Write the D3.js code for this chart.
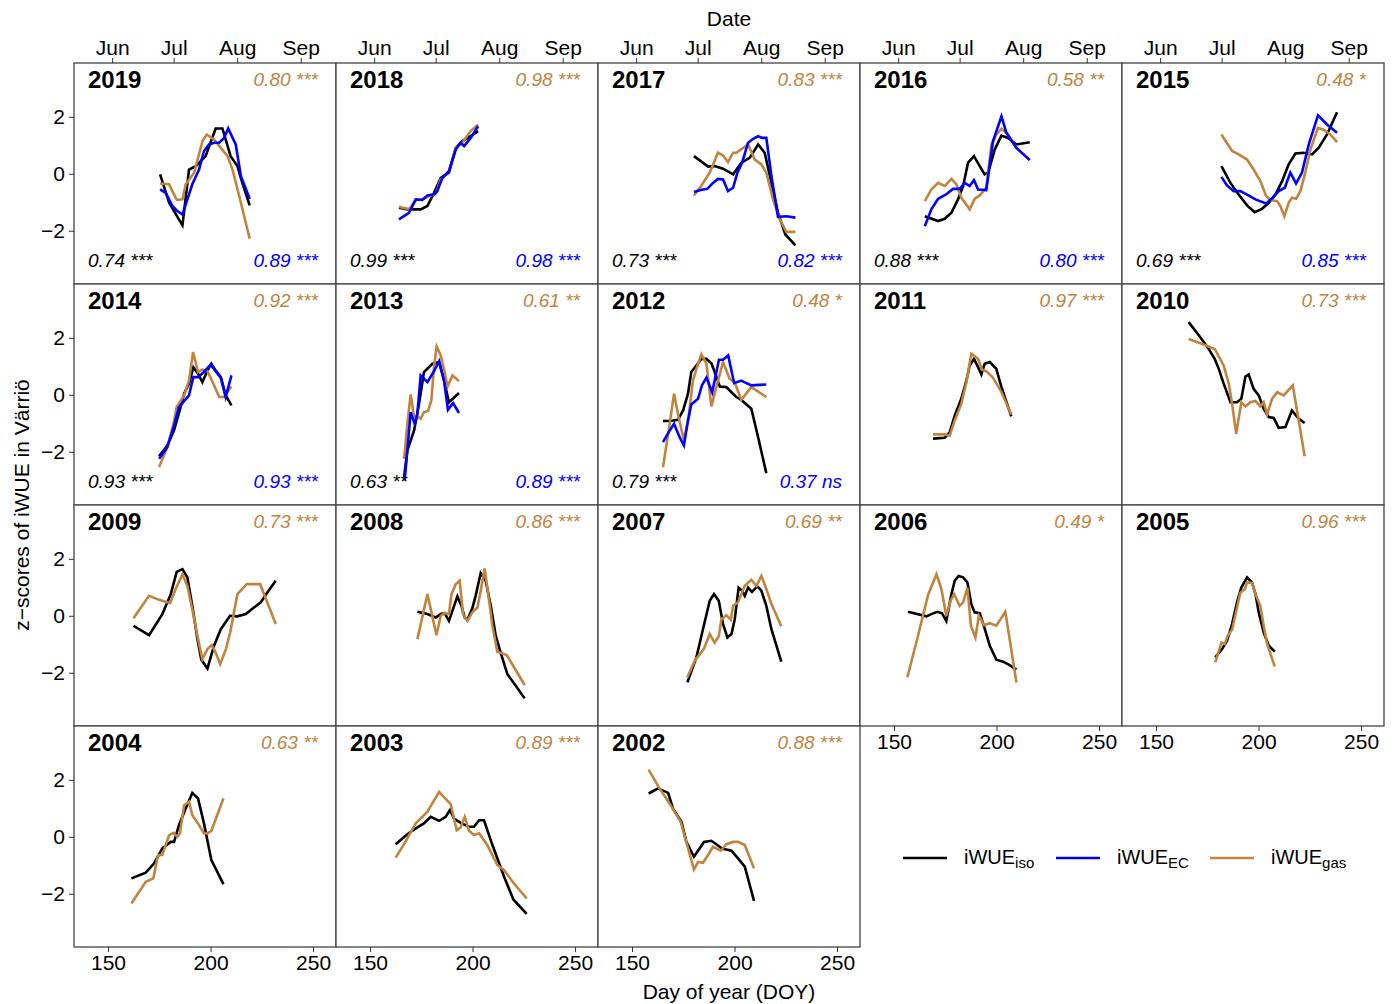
<!DOCTYPE html>
<html>
<head>
<meta charset="utf-8">
<script src="https://cdn.jsdelivr.net/npm/d3@7"></script>
<style>
  body { margin: 0; background: #fff; }
  text { font-family: "Liberation Sans", Arial, sans-serif; }
</style>
</head>
<body>
<svg id="chart" width="1395" height="1004"></svg>
<script>
// z-scores of iWUE per year, three methods: isotopes (black), eddy covariance (blue), gas exchange (brown)
// each point is [DOY, z]

const years = [2019, 2018, 2017, 2016, 2015, 2014, 2013, 2012, 2011, 2010, 2009, 2008, 2007, 2006, 2005, 2004, 2003, 2002];
const gasStats = ["0.80 ***", "0.98 ***", "0.83 ***", "0.58 **", "0.48 *", "0.92 ***", "0.61 **", "0.48 *", "0.97 ***", "0.73 ***",
                  "0.73 ***", "0.86 ***", "0.69 **", "0.49 *", "0.96 ***", "0.63 **", "0.89 ***", "0.88 ***"];
const isoStats = ["0.74 ***", "0.99 ***", "0.73 ***", "0.88 ***", "0.69 ***", "0.93 ***", "0.63 **", "0.79 ***"];
const ecStats  = ["0.89 ***", "0.98 ***", "0.82 ***", "0.80 ***", "0.85 ***", "0.93 ***", "0.89 ***", "0.37 ns"];

const monthTicks = [152, 182, 213, 244];
const monthLabels = ["Jun", "Jul", "Aug", "Sep"];
const doyTicks = [150, 200, 250];
const zTicks = [-2, 0, 2];

const iso2019 = [[175.4,-0.02],[179.8,-1.02],[186.3,-1.81],[189.5,0.15],[192.8,0.27],[197.6,0.62],[202.5,1.59],[205.8,1.59],[207.4,1.20],[209.8,0.62],[213.1,0.27],[215.5,-0.32],[219.1,-1.11]];
const gas2019 = [[175.4,-0.34],[179.8,-0.37],[183.5,-0.92],[186.3,-0.90],[187.9,-0.37],[192.0,0.04],[196.1,1.15],[198.2,1.38],[201.8,1.20],[205.0,0.91],[208.3,0.62],[210.7,0.15],[214.0,-0.78],[219.1,-2.28]];
const ec2019  = [[175.4,-0.55],[178.1,-0.67],[181.4,-1.13],[183.8,-1.31],[186.3,-1.43],[188.7,-0.90],[191.1,-0.37],[194.4,0.15],[196.8,0.80],[199.3,1.03],[201.8,1.09],[204.2,1.09],[206.6,1.26],[208.6,1.59],[212.3,1.03],[214.8,-0.08],[219.1,-0.88]];

const iso2018 = [[164.1,-1.19],[168.2,-1.25],[174.7,-1.25],[178.0,-1.13],[181.2,-0.67],[184.5,-0.14],[188.5,0.04],[191.8,0.91],[195.0,1.15],[199.1,1.32],[202.7,1.50]];
const gas2018 = [[164.1,-1.16],[169.0,-1.25],[172.3,-0.92],[175.5,-0.90],[178.8,-0.78],[182.0,-0.72],[184.5,-0.20],[188.5,0.09],[191.8,0.91],[195.0,1.09],[199.1,1.50],[202.7,1.73]];
const ec2018  = [[164.1,-1.60],[169.0,-1.37],[172.3,-0.90],[175.5,-0.92],[178.0,-0.76],[181.2,-0.72],[182.8,-0.61],[185.3,-0.14],[188.5,0.09],[191.8,0.85],[194.2,1.09],[195.9,0.97],[199.1,1.26],[202.7,1.67]];

const iso2017 = [[180.2,0.62],[187.1,0.25],[190.3,0.27],[194.4,0.18],[199.3,-0.02],[203.3,0.39],[207.4,0.56],[211.5,1.03],[214.7,0.74],[218.0,-0.32],[221.2,-1.37],[224.8,-2.13],[229.7,-2.51]];
const gas2017 = [[180.2,-0.76],[183.7,-0.43],[187.9,0.04],[191.9,0.74],[194.4,0.64],[196.8,0.41],[199.3,0.74],[200.9,0.74],[204.2,0.91],[206.6,1.03],[209.9,0.50],[213.1,0.33],[215.5,0.04],[218.8,-0.90],[222.0,-1.60],[225.3,-2.04],[229.7,-2.04]];
const ec2017  = [[180.2,-0.64],[183.0,-0.58],[186.7,-0.53],[189.5,-0.32],[191.9,-0.18],[194.4,-0.20],[196.8,-0.61],[199.3,-0.49],[201.4,0.04],[203.7,0.39],[206.6,1.09],[209.1,1.23],[211.5,1.32],[213.5,1.26],[215.5,1.26],[218.0,-0.08],[221.2,-1.51],[225.3,-1.49],[229.7,-1.54]];

const iso2016 = [[165.0,-1.49],[171.5,-1.66],[174.7,-1.58],[178.0,-1.37],[181.2,-0.90],[183.7,-0.43],[186.1,0.39],[189.0,0.62],[191.8,0.27],[194.2,-0.02],[195.9,0.04],[199.1,0.85],[202.4,1.34],[205.6,1.26],[209.7,1.03],[216.2,1.11]];
const gas2016 = [[165.0,-0.96],[168.2,-0.55],[171.5,-0.32],[174.7,-0.43],[178.0,-0.18],[180.4,-0.37],[182.8,-0.84],[186.9,-1.25],[189.3,-0.88],[191.8,-0.76],[195.0,-0.49],[197.5,1.03],[199.9,1.38],[202.4,1.58],[205.6,1.38],[209.7,0.91],[216.2,0.48]];
const ec2016  = [[165.0,-1.84],[168.2,-1.25],[171.5,-0.88],[175.5,-0.72],[178.8,-0.53],[182.0,-0.53],[184.5,-0.32],[186.9,-0.43],[189.0,-0.22],[191.0,-0.55],[195.0,-0.57],[198.3,1.15],[202.4,2.02],[204.8,1.44],[209.7,0.91],[216.2,0.48]];

const iso2015 = [[181.9,0.27],[186.3,-0.32],[190.3,-0.73],[194.4,-1.11],[198.1,-1.35],[201.7,-1.23],[205.0,-1.02],[208.2,-0.73],[211.5,-0.26],[214.7,0.33],[218.0,0.71],[222.0,0.74],[226.1,0.68],[229.3,0.91],[233.4,1.38],[238.3,2.16]];
const gas2015 = [[181.9,1.38],[187.1,0.80],[190.3,0.68],[194.4,0.50],[197.6,0.15],[200.9,-0.26],[203.7,-0.78],[205.8,-0.92],[209.1,-0.96],[210.7,-1.14],[212.6,-1.49],[214.7,-1.02],[216.3,-0.84],[218.3,-0.88],[220.4,-0.61],[222.8,0.04],[225.3,0.85],[229.0,1.61],[231.7,1.55],[235.0,1.38],[238.3,1.11]];
const ec2015  = [[181.9,-0.11],[184.6,-0.41],[187.9,-0.61],[191.1,-0.61],[194.4,-0.73],[198.5,-0.90],[203.7,-1.04],[206.9,-0.84],[209.8,-0.61],[212.8,-0.49],[215.5,0.04],[218.3,-0.34],[221.2,0.04],[224.5,1.03],[229.0,2.05],[233.4,1.73],[238.3,1.44]];

const iso2014 = [[174.9,-2.16],[178.9,-1.78],[182.2,-1.25],[185.4,-0.43],[187.1,0.04],[189.5,0.39],[191.6,0.97],[193.9,0.74],[196.0,0.44],[198.5,0.85],[200.4,1.09],[202.5,0.85],[205.0,0.62],[207.4,-0.02],[210.2,-0.37]];
const gas2014 = [[174.9,-2.54],[178.9,-1.84],[181.9,-1.02],[183.5,-0.43],[187.1,-0.02],[189.5,0.50],[191.5,1.50],[193.9,0.80],[196.0,0.88],[198.5,0.83],[201.4,0.39],[204.2,-0.08],[206.6,-0.08],[210.2,0.29]];
const ec2014  = [[174.9,-2.25],[178.9,-1.84],[182.2,-1.08],[184.6,-0.43],[189.5,-0.02],[191.6,0.62],[193.9,0.62],[196.8,0.80],[200.1,1.06],[202.5,0.83],[205.0,0.60],[207.4,-0.08],[210.2,0.68]];

const iso2013 = [[166.6,-2.89],[168.2,-1.95],[171.5,-1.25],[173.9,-0.32],[176.3,0.80],[180.4,1.09],[183.7,1.15],[186.1,0.50],[188.5,-0.26],[193.4,0.06]];
const gas2013 = [[166.6,-2.25],[168.2,-1.02],[169.8,0.01],[171.5,-0.78],[173.1,-0.76],[174.7,-0.84],[176.3,-0.61],[178.3,-0.57],[179.9,-0.20],[181.2,0.97],[182.5,1.70],[184.5,1.38],[186.4,0.80],[187.8,0.29],[190.2,0.68],[193.4,0.48]];
const ec2013  = [[166.9,-3.01],[168.2,-1.95],[169.8,-0.61],[171.8,-1.02],[173.1,-0.67],[174.7,0.68],[178.0,0.44],[181.2,0.83],[183.7,1.18],[186.1,0.50],[188.0,-0.53],[190.5,-0.29],[193.4,-0.64]];

const iso2012 = [[165.1,-0.92],[168.4,-0.92],[172.4,-0.88],[174.9,-0.55],[177.3,0.04],[178.9,0.80],[181.4,1.03],[183.8,1.26],[186.3,1.26],[188.7,1.11],[190.3,0.80],[192.8,0.29],[196.0,0.27],[198.5,0.09],[200.9,-0.08],[203.3,-0.18],[208.2,-0.49],[211.5,-1.49],[215.5,-2.75]];
const gas2012 = [[165.1,-2.54],[167.9,-1.25],[170.5,0.04],[172.7,-0.78],[175.3,-1.60],[177.6,-0.78],[179.7,0.50],[181.4,0.91],[183.8,1.42],[186.3,1.09],[188.7,-0.41],[191.1,0.27],[194.4,1.15],[197.6,0.56],[200.1,0.44],[203.3,-0.18],[208.2,0.27],[215.5,-0.08]];
const ec2012  = [[165.1,-1.66],[167.9,-1.31],[170.5,-1.02],[173.2,-1.49],[175.3,-1.78],[177.3,-0.90],[178.9,-0.34],[182.2,-0.14],[184.1,0.33],[186.3,0.60],[189.1,0.09],[192.4,1.23],[194.4,1.23],[196.9,1.38],[199.8,0.41],[203.3,0.50],[208.2,0.33],[215.5,0.36]];

const iso2011 = [[169.0,-1.54],[174.7,-1.51],[177.2,-1.31],[179.6,-0.73],[182.8,-0.14],[185.3,0.50],[186.9,1.03],[189.0,1.26],[191.0,0.97],[192.6,0.71],[194.2,1.09],[196.7,1.15],[199.9,0.91],[202.4,0.27],[207.2,-0.76]];
const gas2011 = [[169.0,-1.39],[174.7,-1.39],[177.2,-1.43],[179.6,-0.90],[182.8,-0.32],[185.3,0.44],[187.7,1.44],[191.0,1.26],[192.9,0.88],[195.0,0.83],[198.3,0.60],[202.4,0.09],[207.2,-0.69]];

const iso2010 = [[165.9,2.55],[171.6,2.02],[175.7,1.61],[178.6,1.26],[180.6,0.91],[183.0,0.39],[186.3,-0.26],[189.5,-0.26],[191.6,-0.14],[193.6,0.64],[195.2,0.71],[197.6,0.21],[200.1,-0.02],[202.5,-0.49],[205.0,-0.78],[207.4,-0.81],[209.8,-1.16],[213.1,-1.13],[216.3,-0.55],[219.6,-0.84],[222.5,-0.99]];
const gas2010 = [[165.9,1.96],[171.6,1.81],[178.6,1.61],[183.0,1.03],[185.5,0.39],[187.1,-0.32],[189.1,-1.37],[191.6,-0.26],[193.6,-0.41],[196.0,-0.26],[198.5,-0.22],[200.9,-0.41],[202.5,-0.26],[204.2,-0.69],[206.6,-0.14],[209.1,0.09],[212.3,-0.02],[216.7,0.33],[219.6,-0.90],[222.5,-2.16]];

const iso2009 = [[162.4,-0.35],[170.0,-0.68],[176.5,0.06],[180.6,0.76],[183.5,1.54],[186.3,1.64],[188.7,1.35],[191.1,0.35],[193.6,-0.82],[195.5,-1.54],[198.5,-1.85],[201.7,-1.05],[205.0,-0.47],[209.5,0.00],[213.1,-0.02],[217.2,0.06],[221.2,0.29],[224.5,0.47],[227.7,0.82],[231.8,1.23]];
const gas2009 = [[162.4,-0.09],[170.0,0.70],[174.9,0.56],[180.3,0.44],[183.0,0.94],[186.3,1.46],[188.7,1.05],[191.1,0.23],[193.6,-0.70],[196.0,-1.52],[198.5,-1.17],[200.6,-1.03],[202.5,-1.29],[204.7,-1.70],[207.5,-1.17],[209.6,-0.58],[213.1,0.76],[217.7,1.11],[224.2,1.11],[227.7,0.47],[231.8,-0.29]];

const iso2008 = [[173.1,0.14],[178.0,0.06],[182.0,-0.06],[184.5,0.06],[186.4,0.09],[188.5,-0.18],[191.0,0.35],[192.6,0.68],[194.6,0.35],[196.2,-0.06],[197.5,-0.14],[199.9,0.26],[201.5,0.70],[204.0,1.50],[206.4,1.23],[208.9,0.35],[211.3,-0.70],[213.7,-1.29],[217.0,-2.05],[221.1,-2.46],[225.4,-2.90]];
const gas2008 = [[173.1,-0.82],[178.0,0.76],[182.4,-0.68],[184.5,0.00],[186.4,0.09],[188.5,0.06],[189.7,0.76],[191.8,1.11],[193.7,1.23],[195.4,0.06],[197.5,-0.18],[199.9,0.12],[202.4,0.29],[204.0,0.88],[205.9,1.66],[208.0,0.58],[209.7,-0.35],[212.1,-1.26],[216.7,-1.38],[225.4,-2.43]];

const iso2007 = [[177.0,-2.34],[181.4,-1.46],[184.6,-0.47],[187.9,0.53],[190.0,0.76],[192.3,0.53],[194.4,-0.29],[196.5,-0.76],[198.5,-0.64],[200.1,-0.12],[202.0,0.99],[203.7,0.88],[205.0,0.70],[206.6,0.99],[208.5,0.84],[211.1,1.03],[213.1,0.88],[215.5,0.35],[218.0,-0.47],[222.8,-1.61]];
const gas2007 = [[177.0,-2.16],[180.6,-1.58],[185.1,-1.15],[187.9,-0.64],[190.3,-0.94],[192.3,-0.73],[193.6,-0.12],[196.0,0.02],[198.2,-0.14],[199.3,0.35],[201.7,0.47],[205.0,1.05],[208.2,1.26],[210.7,1.05],[213.1,1.40],[215.5,0.94],[218.0,0.41],[222.8,-0.37]];

const iso2006 = [[156.8,0.14],[165.8,-0.02],[168.2,0.06],[171.1,0.14],[173.4,0.09],[175.5,-0.18],[178.0,0.76],[179.6,1.23],[181.5,1.40],[183.7,1.35],[185.8,1.17],[187.7,0.41],[189.3,0.12],[191.8,0.09],[193.9,-0.37],[196.7,-1.05],[199.9,-1.54],[203.2,-1.61],[206.4,-1.73],[209.7,-1.89]];
const gas2006 = [[156.5,-2.16],[161.7,-0.70],[166.6,0.73],[170.7,1.46],[173.1,0.94],[175.5,0.00],[177.6,0.53],[179.3,0.76],[182.0,0.35],[183.7,0.47],[185.8,0.99],[187.5,-0.35],[189.7,-0.76],[191.4,0.00],[193.9,-0.33],[196.7,-0.26],[199.9,-0.35],[204.3,0.14],[209.7,-2.34]];

const iso2005 = [[178.9,-1.46],[182.2,-1.17],[184.6,-0.88],[187.1,-0.29],[189.5,0.47],[191.6,0.99],[194.4,1.35],[196.8,1.17],[198.5,0.76],[200.1,0.12],[202.5,-0.58],[205.0,-1.05],[207.9,-1.26]];
const gas2005 = [[178.9,-1.64],[181.9,-0.94],[183.5,-0.99],[185.1,-0.68],[187.1,-0.49],[189.5,0.29],[191.1,0.80],[193.3,0.94],[194.4,1.17],[196.8,1.15],[198.5,0.76],[200.9,0.35],[202.5,-0.35],[204.2,-0.99],[207.9,-1.78]];

const iso2004 = [[161.4,-1.46],[168.4,-1.26],[172.4,-0.94],[176.5,-0.41],[180.6,-0.18],[182.2,-0.18],[184.6,0.41],[187.9,0.99],[191.1,1.54],[193.9,1.35],[196.8,0.47],[200.4,-0.82],[206.3,-1.66]];
const gas2004 = [[161.4,-2.34],[168.4,-1.58],[172.1,-1.46],[174.4,-0.64],[176.5,-0.64],[179.8,0.06],[181.9,0.14],[183.8,0.00],[185.1,0.12],[187.1,1.11],[189.5,1.23],[191.1,0.76],[193.9,0.47],[196.8,0.12],[198.5,0.12],[200.4,0.21],[206.3,1.35]];

const iso2003 = [[162.5,-0.26],[168.2,0.09],[173.1,0.33],[176.3,0.47],[179.6,0.70],[183.7,0.56],[186.9,0.70],[189.0,0.94],[191.0,0.64],[194.2,0.49],[198.3,0.35],[200.7,0.35],[203.2,0.58],[205.6,0.58],[209.7,-0.29],[215.4,-1.40],[219.9,-2.20],[226.4,-2.71]];
const gas2003 = [[162.5,-0.73],[166.6,-0.26],[172.3,0.47],[178.0,0.88],[183.7,1.58],[189.3,1.15],[192.3,0.23],[194.2,0.33],[196.2,0.70],[198.3,0.21],[200.7,0.06],[203.2,0.12],[207.2,-0.29],[212.1,-0.99],[215.4,-1.17],[220.2,-1.64],[226.4,-2.16]];

const iso2002 = [[158.1,1.52],[162.7,1.70],[167.6,1.54],[170.0,0.99],[174.1,0.53],[176.5,-0.18],[180.2,-0.70],[185.1,-0.18],[188.7,-0.14],[191.1,-0.26],[193.9,-0.41],[198.5,-0.49],[201.7,-0.76],[205.0,-1.05],[209.5,-2.25]];
const gas2002 = [[158.1,2.36],[163.4,1.70],[168.3,1.17],[173.7,0.53],[176.9,-0.29],[180.2,-1.15],[182.2,-0.88],[184.6,-0.91],[187.1,-0.64],[189.5,-0.35],[193.3,-0.49],[196.0,-0.26],[199.3,-0.18],[201.7,-0.18],[205.0,-0.29],[209.5,-1.11]];

const isoByYear = {2019: iso2019, 2018: iso2018, 2017: iso2017, 2016: iso2016, 2015: iso2015, 2014: iso2014, 2013: iso2013, 2012: iso2012,
  2011: iso2011, 2010: iso2010, 2009: iso2009, 2008: iso2008, 2007: iso2007, 2006: iso2006, 2005: iso2005, 2004: iso2004, 2003: iso2003, 2002: iso2002};
const gasByYear = {2019: gas2019, 2018: gas2018, 2017: gas2017, 2016: gas2016, 2015: gas2015, 2014: gas2014, 2013: gas2013, 2012: gas2012,
  2011: gas2011, 2010: gas2010, 2009: gas2009, 2008: gas2008, 2007: gas2007, 2006: gas2006, 2005: gas2005, 2004: gas2004, 2003: gas2003, 2002: gas2002};
const ecByYear = {2019: ec2019, 2018: ec2018, 2017: ec2017, 2016: ec2016, 2015: ec2015, 2014: ec2014, 2013: ec2013, 2012: ec2012};

const colIso = "#000000", colEC = "#0000ff", colGas = "#c0843f";

const marginLeft = 74, marginTop = 63, panelW = 262, panelH = 221, nCols = 5;
const axisFont = "Liberation Sans, Arial, sans-serif";

const svg = d3.select("#chart");

const x = d3.scaleLinear().domain([133.4, 261.2]).range([0, panelW]);
const y = d3.scaleLinear().domain([-3.87, 3.89]).range([panelH, 0]);

const line = d3.line()
    .x(d => x(d[0]))
    .y(d => y(d[1]));

function styleAxis(ax) {
    ax.select(".domain").remove();
    ax.selectAll("text").style("font-size", "21px").style("font-family", axisFont).attr("fill", "#000");
    ax.selectAll("line").attr("stroke", "#333");
}

years.forEach(function(yr, i) {
    let col = i % nCols, row = Math.floor(i / nCols);
    let g = svg.append("g")
        .attr("transform", "translate(" + (marginLeft + col * panelW) + "," + (marginTop + row * panelH) + ")");

    g.append("rect")
        .attr("width", panelW).attr("height", panelH)
        .attr("fill", "white");

    // lines
    g.append("path").datum(isoByYear[yr])
        .attr("d", line).attr("fill", "none")
        .attr("stroke", colIso).attr("stroke-width", 2.6);
    g.append("path").datum(gasByYear[yr])
        .attr("d", line).attr("fill", "none")
        .attr("stroke", colGas).attr("stroke-width", 2.6);
    if (ecByYear[yr]) {
        g.append("path").datum(ecByYear[yr])
            .attr("d", line).attr("fill", "none")
            .attr("stroke", colEC).attr("stroke-width", 2.6);
    }

    g.append("rect")
        .attr("width", panelW).attr("height", panelH)
        .attr("fill", "none").attr("stroke", "#444").attr("stroke-width", 1.3);

    g.append("text")
        .attr("x", 14).attr("y", 25)
        .style("font-size", "24px").style("font-weight", "bold")
        .text(yr);

    g.append("text")
        .attr("x", panelW - 18).attr("y", 23)
        .attr("text-anchor", "end")
        .style("font-size", "19px").style("font-style", "italic")
        .attr("fill", colGas)
        .text(gasStats[i]);

    if (isoStats[i]) {
        g.append("text")
            .attr("x", 14).attr("y", 204)
            .style("font-size", "19px").style("font-style", "italic")
            .attr("fill", colIso)
            .text(isoStats[i]);
        g.append("text")
            .attr("x", panelW - 18).attr("y", 204)
            .attr("text-anchor", "end")
            .style("font-size", "19px").style("font-style", "italic")
            .attr("fill", colEC)
            .text(ecStats[i]);
    }

    // left axis for first column
    if (col === 0) {
        let ax = g.append("g")
            .call(d3.axisLeft(y).tickValues(zTicks).tickSize(5).tickPadding(4)
                .tickFormat(d => d < 0 ? "\u2212" + Math.abs(d) : d));
        styleAxis(ax);
    }

    // top axis with months for first row
    if (row === 0) {
        let ax = g.append("g")
            .call(d3.axisTop(x).tickValues(monthTicks).tickSize(5).tickPadding(3)
                .tickFormat((d, j) => monthLabels[j]));
        styleAxis(ax);
    }

    // bottom axis for the lowest panel in each column
    let fullRows = Math.floor(years.length / nCols);
    let lastRow = (col < years.length % nCols) ? fullRows : fullRows - 1;
    if (row === lastRow) {
        let ax = g.append("g")
            .attr("transform", "translate(0," + panelH + ")")
            .call(d3.axisBottom(x).tickValues(doyTicks).tickSize(5).tickPadding(3));
        styleAxis(ax);
    }
});

// axis titles
svg.append("text")
    .attr("x", marginLeft + nCols * panelW / 2).attr("y", 26)
    .attr("text-anchor", "middle")
    .style("font-size", "21px")
    .text("Date");

svg.append("text")
    .attr("x", marginLeft + nCols * panelW / 2).attr("y", 999)
    .attr("text-anchor", "middle")
    .style("font-size", "21px")
    .text("Day of year (DOY)");

svg.append("text")
    .attr("transform", "translate(29," + (marginTop + 2 * panelH) + ") rotate(-90)")
    .attr("text-anchor", "middle")
    .style("font-size", "21px")
    .text("z\u2212scores of iWUE in Värriö");

// legend
const legendItems = [
    {sub: "iso", color: colIso, x: 903},
    {sub: "EC", color: colEC, x: 1056},
    {sub: "gas", color: colGas, x: 1210}
];
legendItems.forEach(function(d) {
    svg.append("line")
        .attr("x1", d.x).attr("x2", d.x + 44)
        .attr("y1", 858).attr("y2", 858)
        .attr("stroke", d.color).attr("stroke-width", 2.6);
    let t = svg.append("text")
        .attr("x", d.x + 61).attr("y", 864)
        .style("font-size", "20px");
    t.append("tspan").text("iWUE");
    t.append("tspan").attr("dy", 4).style("font-size", "15px").text(d.sub);
});
</script>
</body>
</html>
